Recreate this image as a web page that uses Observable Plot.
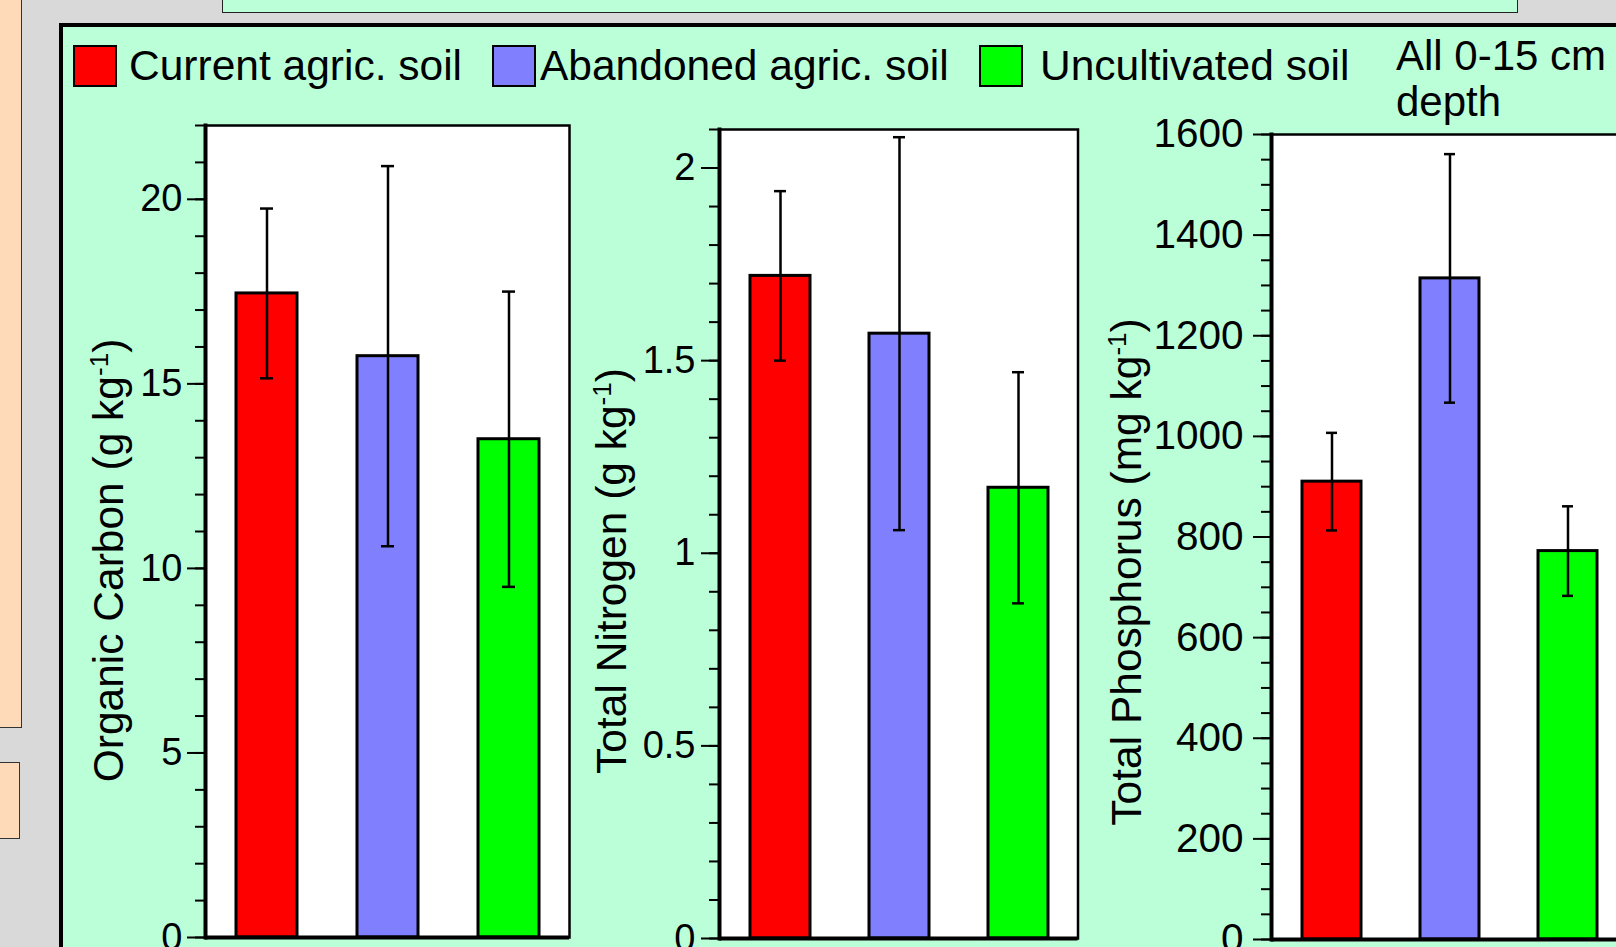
<!DOCTYPE html>
<html><head><meta charset="utf-8">
<script src="https://cdn.jsdelivr.net/npm/d3@7"></script>
<script src="https://cdn.jsdelivr.net/npm/@observablehq/plot@0.6"></script>
<style>
html,body{margin:0;padding:0}
body{width:1616px;height:947px;overflow:hidden;background:#d9d9d9;position:relative;font-family:"Liberation Sans",Arial,sans-serif}
.abs{position:absolute;box-sizing:border-box}
.leg{position:absolute;font-size:42.5px;line-height:42.5px;white-space:nowrap;color:#000}
.sw{position:absolute;box-sizing:border-box;border:2.5px solid #000;width:44px;height:42px;top:45px}
.plotbox{position:absolute;top:0}
.plotbox svg{overflow:visible;max-width:none !important}
</style></head><body>
<div class="abs" style="left:-10px;top:-10px;width:32px;height:738px;background:#ffdab9;border:1.5px solid #333"></div>
<div class="abs" style="left:-10px;top:762px;width:29.5px;height:77px;background:#ffdab9;border:1.5px solid #333"></div>
<div class="abs" style="left:222px;top:-10px;width:1296px;height:22.5px;background:#bbffd9;border:1.5px solid #222"></div>
<div class="abs" style="left:59px;top:23px;width:1700px;height:1000px;background:#bbffd9;border:4px solid #000"></div>
<div id="legend"></div>
<div class="leg" style="left:1396px;top:33px;font-size:42px;line-height:46px">All 0-15 cm<br>depth</div>
<div id="p0" class="plotbox"></div>
<div id="p1" class="plotbox"></div>
<div id="p2" class="plotbox"></div>
<script>
const categories = ["Current agric. soil", "Abandoned agric. soil", "Uncultivated soil"];
const colors = ["#ff0000", "#8080ff", "#00ff00"];

const carbonMean = [17.45, 15.75, 13.5];
const carbonErr = [2.3, 5.15, 4.0];
const nitrogenMean = [1.72, 1.57, 1.17];
const nitrogenErr = [0.22, 0.51, 0.30];
const phosphorusMean = [910, 1314, 772];
const phosphorusErr = [97, 247, 89];

const carbonMajor = [0, 5, 10, 15, 20];
const nitrogenMajor = [0, 0.5, 1, 1.5, 2];
const phosphorusMajor = [0, 200, 400, 600, 800, 1000, 1200, 1400, 1600];
const carbonMinor = d3.range(0, 23);
const nitrogenMinor = d3.range(0, 22).map(i => i / 10);
const phosphorusMinor = d3.range(0, 33).map(i => i * 50);

const labels = ["Organic Carbon (g kg-1)", "Total Nitrogen (g kg-1)", "Total Phosphorus (mg kg-1)"];
const legendSwatchX = [73, 492, 979];
const legendTextX = [129, 540, 1040];

// legend
const leg = document.getElementById("legend");
categories.forEach((c, i) => {
  const s = document.createElement("div");
  s.className = "sw"; s.style.left = legendSwatchX[i] + "px"; s.style.background = colors[i];
  leg.appendChild(s);
  const t = document.createElement("div");
  t.className = "leg"; t.style.left = legendTextX[i] + "px"; t.style.top = "45px"; t.textContent = c;
  leg.appendChild(t);
});

const H = 990;
const panels = [
  {mean: carbonMean, err: carbonErr, domain: [0, 22], major: carbonMajor, minor: carbonMinor, fmt: d => String(d),
   left: 64, fl: 205, fr: 569, ft: 125, fb: 937, tickFont: 38, pad: 5, label: labels[0], ldx: -82.5, ldy: 29},
  {mean: nitrogenMean, err: nitrogenErr, domain: [0, 2.1], major: nitrogenMajor, minor: nitrogenMinor, fmt: d => String(d),
   left: 580, fl: 719, fr: 1077.5, ft: 129, fb: 938, tickFont: 38, pad: 6, label: labels[1], ldx: -94, ldy: 37},
  {mean: phosphorusMean, err: phosphorusErr, domain: [0, 1600], major: phosphorusMajor, minor: phosphorusMinor, fmt: d => String(d),
   left: 1090, fl: 1271, fr: 1627, ft: 134, fb: 939, tickFont: 40.5, pad: 10, label: labels[2], ldx: -131, ldy: 35}
];

panels.forEach((o, k) => {
  const data = categories.map((c, i) => ({cat: c, mean: o.mean[i], lo: o.mean[i] - o.err[i], hi: o.mean[i] + o.err[i]}));
  const mr = 20;
  const plot = Plot.plot({
    width: o.fr - o.left + mr,
    height: H,
    marginLeft: o.fl - o.left,
    marginRight: mr,
    marginTop: o.ft,
    marginBottom: H - o.fb,
    style: {fontFamily: "'Liberation Sans', Arial, sans-serif", fontSize: o.tickFont + "px", color: "black", background: "transparent", overflow: "visible", maxWidth: "none"},
    x: {domain: categories, paddingInner: 0.5, paddingOuter: 0.25, axis: null},
    y: {domain: o.domain, axis: null},
    color: {domain: categories, range: colors},
    marks: [
      Plot.frame({fill: "white", stroke: "black", strokeWidth: 2.5}),
      Plot.barY(data, {x: "cat", y: "mean", fill: "cat", stroke: "black", strokeWidth: 3}),
      Plot.ruleX(data, {x: "cat", y1: "lo", y2: "hi", stroke: "black", strokeWidth: 2.5}),
      Plot.tickY(data, {x: "cat", y: "hi", stroke: "black", strokeWidth: 2.5, insetLeft: 24, insetRight: 24}),
      Plot.tickY(data, {x: "cat", y: "lo", stroke: "black", strokeWidth: 2.5, insetLeft: 24, insetRight: 24}),
      Plot.axisY({ticks: o.minor, tickSize: 10, tickFormat: () => "", strokeWidth: 2, label: null}),
      Plot.axisY({ticks: o.major, tickSize: 18, tickPadding: o.pad, tickFormat: o.fmt, strokeWidth: 2, label: null, fontSize: o.tickFont}),
      Plot.ruleY([0], {stroke: "black", strokeWidth: 4}),
      Plot.frame({anchor: "left", stroke: "black", strokeWidth: 4}),
      Plot.text([o.label], {frameAnchor: "left", rotate: -90, dx: o.ldx, dy: o.ldy, fontSize: 42.5, textAnchor: "middle", lineAnchor: "bottom", className: "ylab" + k})
    ]
  });
  const box = document.getElementById("p" + k);
  box.style.left = o.left + "px";
  box.appendChild(plot);
  const ns = "http://www.w3.org/2000/svg";
  plot.querySelectorAll(".ylab" + k + " text").forEach(t => {
    const full = t.textContent;
    const parts = full.split("-1");
    t.textContent = "";
    const a = document.createElementNS(ns, "tspan"); a.textContent = parts[0];
    const b = document.createElementNS(ns, "tspan"); b.textContent = "-1";
    b.setAttribute("font-size", "26"); b.setAttribute("dy", "-15");
    const c = document.createElementNS(ns, "tspan"); c.textContent = parts[1]; c.setAttribute("dy", "15");
    t.appendChild(a); t.appendChild(b); t.appendChild(c);
  });
});
</script>
</body></html>
